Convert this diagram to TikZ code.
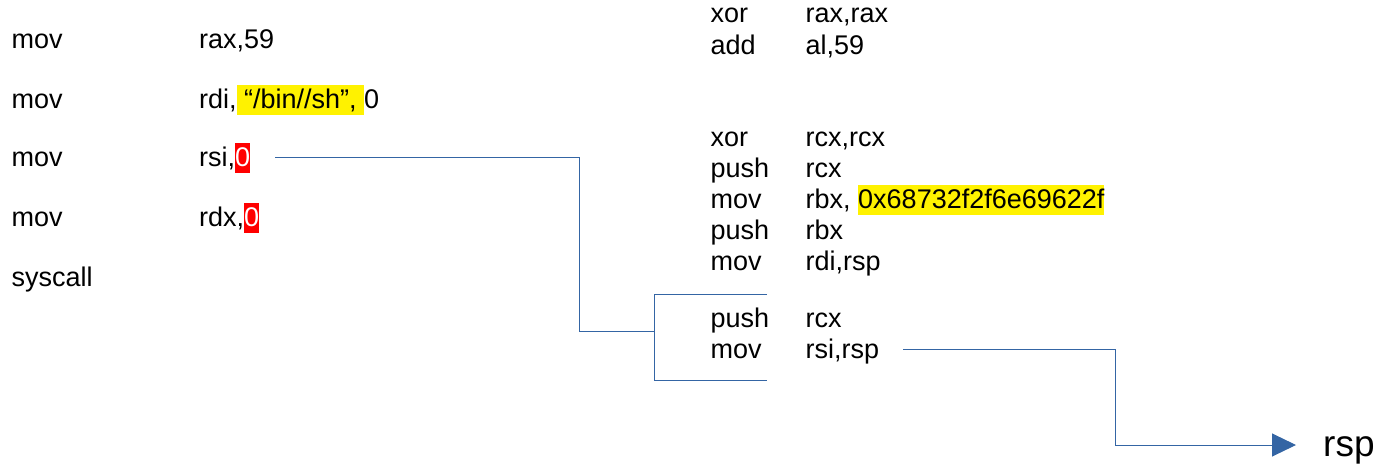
\documentclass[tikz,border=0pt]{standalone}
\usepackage{fontspec}
\setmainfont{Liberation Sans}
\usetikzlibrary{arrows.meta}

\definecolor{linkblue}{HTML}{3465A4}
\newcommand\hlbox[2]{{\setlength\fboxsep{0pt}\colorbox{#1}{\rule[-6.5pt]{0pt}{30pt}#2}}}

\begin{document}
\begin{tikzpicture}[x=1pt, y=-1pt,
  asm/.style={anchor=base west, inner sep=0pt, text height=23.5pt, text depth=6.5pt,
              font={\fontsize{27}{31}\selectfont}},
  link/.style={draw=linkblue, line width=1pt}]

\useasboundingbox (0,0) rectangle (1379,466);

\def\xMnL{11.5} 
\def\xOpL{199}  
\def\xMnR{710.5}
\def\xOpR{805.5}

% left column
\node[asm] (mn1) at (\xMnL,48)  {mov};
\node[asm] (op1) at (\xOpL,48)  {rax,59};
\node[asm] (mn2) at (\xMnL,108) {mov};
\node[asm] (op2) at (\xOpL,108) {rdi,\hlbox{yellow}{ “/bin//sh”, }0};
\node[asm] (mn3) at (\xMnL,166) {mov};
\node[asm] (op3) at (\xOpL,166) {rsi,\hlbox{red}{\color{white}0}};
\node[asm] (mn4) at (\xMnL,226) {mov};
\node[asm] (op4) at (\xOpL,226) {rdx,\hlbox{red}{\color{white}0}};
\node[asm] (mn5) at (\xMnL,286) {syscall};

% right column
\foreach \y/\mn/\op [count=\i] in {22/xor/{rax,rax}, 54/add/{al,59},
    146/xor/{rcx,rcx}, 177/push/rcx, 208/mov/{rbx, \hlbox{yellow}{0x68732f2f6e69622f}},
    239/push/rbx, 270/mov/{rdi,rsp}, 327/push/rcx, 358/mov/{rsi,rsp}}
{
  \node[asm] (rmn\i) at (\xMnR,\y) {\mn};
  \node[asm] (rop\i) at (\xOpR,\y) {\op};
}

\node[anchor=base west, inner sep=0pt, text height=25pt, text depth=3pt,
      font={\fontsize{37}{44}\selectfont}] (rsp) at (1323,456) {rsp};

% bracket round the last two lines
\coordinate (brtop) at (767,294);
\coordinate (brbot) at (767,380);
\coordinate (brmid) at (654,331);
\coordinate (turn1) at (579,331);
\coordinate (turn2) at (1115,445);

\draw[link] (brtop) -- (654,294) -- (654,380) -- (brbot);

\draw[link, shorten <=25pt] (op3.east) -| (turn1) -- (brmid);
\draw[link, -{Triangle[length=24pt, width=23pt]}, shorten <=24pt, shorten >=27pt]
    (rop9.east) -| (turn2) -- (rsp.west);
\end{tikzpicture}
\end{document}
